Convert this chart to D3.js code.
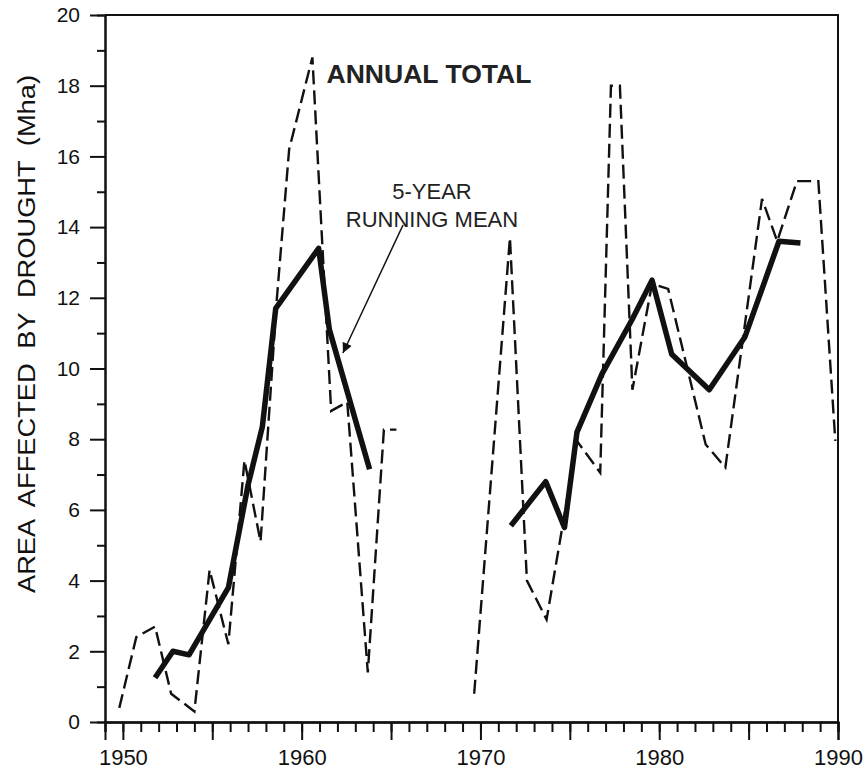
<!DOCTYPE html>
<html lang="en">
<head>
  <meta charset="UTF-8">
  <title>Area affected by drought</title>
  <script src="https://d3js.org/d3.v7.min.js"></script>
  <style>
      body { margin: 0; background: #fff; }
      svg { font-family: "Liberation Sans", Arial, sans-serif; }
      .domain, .tick line { stroke: #111; stroke-width: 2px; }
      .tick text { fill: #111; }
      .annual { fill: none; stroke: #111; stroke-width: 2.4px; stroke-dasharray: 14 6; }
      .mean { fill: none; stroke: #111; stroke-width: 5.5px; stroke-linejoin: round; }
  </style>
</head>
<body>
<svg width="865" height="770"></svg>
<script>
  // annual total (Mha); null splits the two periods
  const annualYears = [1949.8, 1950.75, 1951.8, 1952.7, 1954.0, 1954.85, 1955.9, 1956.8, 1957.7, 1958.6, 1959.3, 1960.6,
    1961.65, 1962.55, 1963.7, 1964.6, 1965.3, null,
    1969.65, 1971.65, 1972.6, 1973.7, 1975.4, 1976.7, 1977.3, 1977.8, 1978.5, 1979.6, 1980.5, 1982.6, 1983.7,
    1985.75, 1986.6, 1987.7, 1988.9, 1989.85];
  const annualValues = [0.4, 2.4, 2.7, 0.8, 0.3, 4.3, 2.2, 7.4, 5.1, 11.9, 16.2, 18.8,
    8.8, 9.05, 1.4, 8.27, 8.27, null,
    0.8, 13.7, 4.0, 2.9, 7.95, 7.05, 18.0, 18.0, 9.4, 12.4, 12.25, 7.85, 7.2,
    14.8, 13.6, 15.3, 15.3, 7.95];

  // 5-year running mean
  const meanYears = [1951.8, 1952.8, 1953.7, 1955.9, 1957.0, 1957.8, 1958.55, 1960.95, 1961.55, 1963.8, null,
    1971.7, 1973.65, 1974.7, 1975.4, 1976.8, 1978.5, 1979.6, 1980.7, 1982.8, 1984.8, 1986.7, 1987.9];
  const meanValues = [1.25, 2.0, 1.9, 3.8, 6.7, 8.35, 11.7, 13.4, 11.1, 7.15, null,
    5.55, 6.8, 5.5, 8.2, 9.85, 11.4, 12.5, 10.4, 9.4, 10.9, 13.6, 13.55];

  const yearLabels = [1950, 1960, 1970, 1980, 1990];
  const yLabels = [0, 2, 4, 6, 8, 10, 12, 14, 16, 18, 20];

  const svg = d3.select("svg");
  const x = d3.scaleLinear().domain([1949, 1990]).range([105, 838]);
  const y = d3.scaleLinear().domain([0, 20]).range([722, 15]);
  const fontFamily = '"Liberation Sans", Arial, sans-serif';

  // frame (top and right)
  svg.append("path")
    .attr("d", `M${x(1949)},${y(20)}H${x(1990)}V${y(0)}`)
    .attr("fill", "none").attr("stroke", "#111").attr("stroke-width", 2);

  // y axis
  svg.append("g").attr("transform", `translate(${x(1949)},0)`)
    .call(d3.axisLeft(y).tickValues(d3.range(1, 20, 2)).tickSize(8).tickFormat(""));
  const yAxis = svg.append("g").attr("transform", `translate(${x(1949)},0)`)
    .attr("font-family", fontFamily)
    .call(d3.axisLeft(y).tickValues(yLabels).tickSize(15).tickPadding(10).tickSizeOuter(0));
  yAxis.attr("font-family", fontFamily);
  yAxis.selectAll(".tick text").attr("font-size", 21);

  // x axis
  svg.append("g").attr("transform", `translate(0,${y(0)})`)
    .call(d3.axisBottom(x).tickValues(d3.range(1949, 1991)).tickSize(10).tickFormat(""));
  svg.append("g").attr("transform", `translate(0,${y(0)})`)
    .call(d3.axisBottom(x).tickValues(d3.range(1955, 1990, 10)).tickSize(18).tickFormat(""));
  const xAxis = svg.append("g").attr("transform", `translate(0,${y(0)})`)
    .call(d3.axisBottom(x).tickValues(yearLabels).tickSize(18).tickPadding(9).tickFormat(d3.format("d")).tickSizeOuter(0));
  xAxis.attr("font-family", fontFamily);
  xAxis.selectAll(".tick text").attr("font-size", 22);
  svg.selectAll(".domain").attr("stroke-width", 2.5);

  // y title
  svg.append("text")
    .attr("transform", `translate(35,${(593 + 75) / 2}) rotate(-90)`)
    .attr("text-anchor", "middle")
    .attr("font-size", 23)
    .attr("textLength", 518)
    .attr("lengthAdjust", "spacingAndGlyphs")
    .attr("fill", "#111")
    .attr("word-spacing", 6)
    .text("AREA AFFECTED BY DROUGHT (Mha)");

  const annual = annualYears.map((yr, i) => ({yr, v: annualValues[i]}));
  const mean = meanYears.map((yr, i) => ({yr, v: meanValues[i]}));

  const line = d3.line()
    .defined(d => d.yr != null && d.v != null)
    .x(d => x(d.yr))
    .y(d => y(d.v));

  svg.append("path").datum(annual).attr("class", "annual").attr("d", line);
  svg.append("path").datum(mean).attr("class", "mean").attr("d", line);

  // labels
  svg.append("text")
    .attr("x", x(1961.39)).attr("y", y(18.07))
    .attr("font-size", 25).attr("font-weight", "bold").attr("fill", "#222")
    .attr("textLength", 205).attr("lengthAdjust", "spacingAndGlyphs")
    .text("ANNUAL TOTAL");

  svg.append("text")
    .attr("x", x(1967.29)).attr("y", y(14.79))
    .attr("text-anchor", "middle").attr("font-size", 22).attr("fill", "#222")
    .text("5-YEAR");
  svg.append("text")
    .attr("x", x(1967.29)).attr("y", y(14.01))
    .attr("text-anchor", "middle").attr("font-size", 22).attr("fill", "#222")
    .text("RUNNING MEAN");

  // arrow
  svg.append("defs").append("marker")
    .attr("id", "arrowhead")
    .attr("viewBox", "0 -5 10 10")
    .attr("refX", 10)
    .attr("refY", 0)
    .attr("markerWidth", 14)
    .attr("markerHeight", 10)
    .attr("markerUnits", "userSpaceOnUse")
    .attr("orient", "auto")
    .append("path")
    .attr("d", "M0,-5L10,0L0,5Z")
    .attr("fill", "#111");

  svg.append("line")
    .attr("x1", x(1965.67)).attr("y1", y(14.06))
    .attr("x2", x(1962.31)).attr("y2", y(10.44))
    .attr("stroke", "#111").attr("stroke-width", 1.5)
    .attr("marker-end", "url(#arrowhead)");
</script>
</body>
</html>
